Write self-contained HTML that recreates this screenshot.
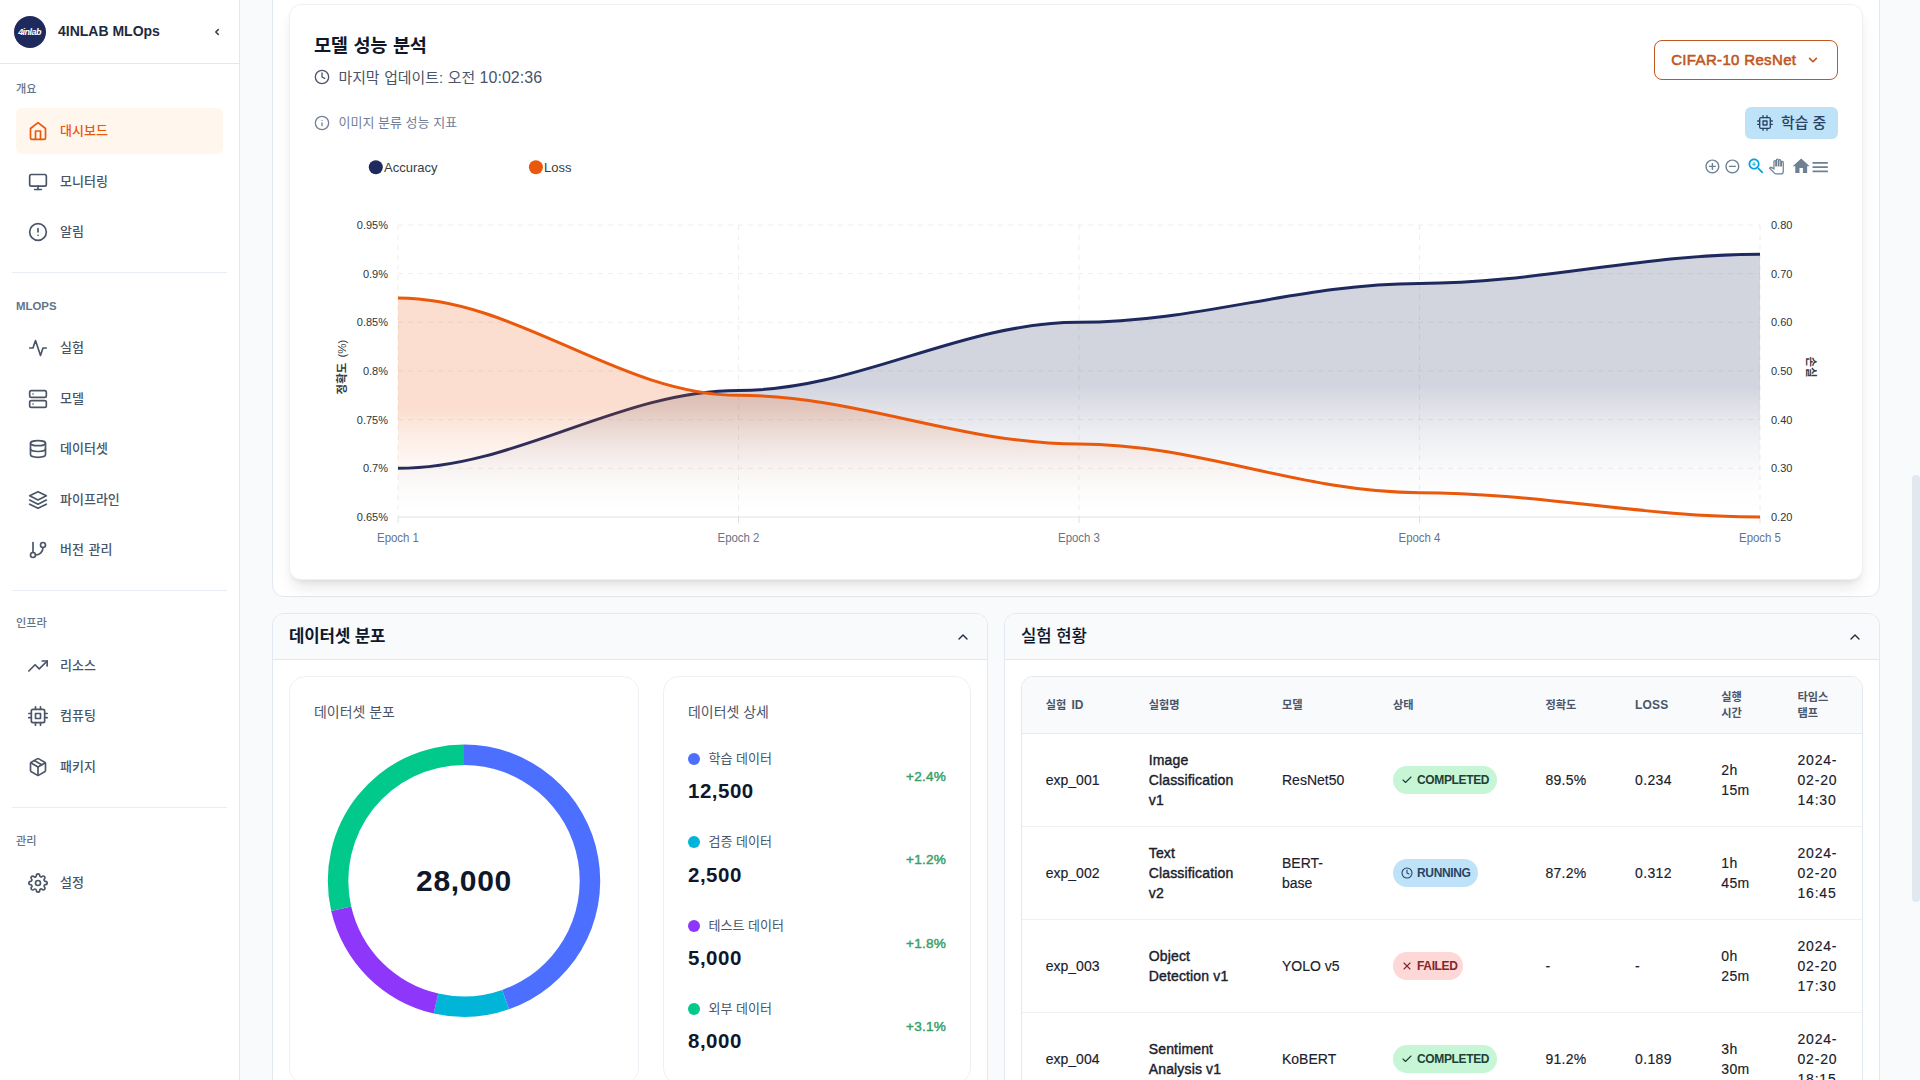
<!DOCTYPE html>
<html lang="ko"><head><meta charset="utf-8"><title>4INLAB MLOps</title>
<style>
*{box-sizing:border-box;margin:0;padding:0}
html,body{width:1920px;height:1080px;overflow:hidden;background:#f8fafc}
body{position:relative;font-family:"Liberation Sans","Noto Sans CJK KR",sans-serif;color:#1e293b;-webkit-font-smoothing:antialiased}
.a{position:absolute}
.ic{position:absolute;display:block;overflow:visible}
.t{position:absolute;white-space:nowrap}
.k{letter-spacing:0}
#sb{position:absolute;left:0;top:0;width:240px;height:1080px;background:#fff;border-right:1px solid #e2e8f0}
#sbh{position:absolute;left:0;top:0;width:239px;height:64px;border-bottom:1px solid #e2e8f0}
.lbl{position:absolute;left:16px;font-size:12px;line-height:16px;height:16px;font-weight:500;color:#64748b;white-space:nowrap}
.it{position:absolute;left:16px;width:207px;height:46px;border-radius:6px}
.it .tx{position:absolute;left:44px;top:0;line-height:46px;font-size:13px;font-weight:500;color:#4a5568;white-space:nowrap;word-spacing:1px}
.it.on{background:#fff7ed}
.it.on .tx{color:#ea580c}
.dv{position:absolute;left:12px;width:215px;height:1px;background:#e8edf3}
.card{position:absolute;background:#fff;border:1px solid #e2e8f0;border-radius:12px}
.sech{position:absolute;left:0;top:0;right:0;height:46px;background:#f8fafc;border-bottom:1px solid #e2e8f0;border-radius:11px 11px 0 0}
.inner{position:absolute;background:#fff;border:1px solid #edf1f6;border-radius:16px}
.ax{font-family:"Liberation Sans",sans-serif;font-size:11px;fill:#2f3437}
.th{position:absolute;font-size:11.2px;font-weight:700;color:#4a5568;line-height:16px;white-space:nowrap;word-spacing:1px}
.td{position:absolute;font-size:14px;color:#1a202c;line-height:20px;white-space:nowrap;-webkit-text-stroke:0.15px #1a202c}
.bdg{position:absolute;height:28px;border-radius:14px;left:1393px}
.bdg span{position:absolute;left:24px;top:0;line-height:28px;font-size:12px;font-weight:700;letter-spacing:-0.35px;white-space:nowrap}
.row{position:absolute;left:1022px;width:840px;height:1px;background:#edf1f6}
</style></head>
<body>
<div id="sb">
<div id="sbh"></div>
<div class="a" style="left:14px;top:16px;width:32px;height:32px;border-radius:50%;background:#1e2a5e"></div>
<div class="t" style="left:14px;top:16px;width:32px;height:32px;line-height:32px;text-align:center;color:#fff;font-size:9px;font-weight:700;font-style:italic;letter-spacing:-0.55px;text-indent:-1px">4inlab</div>
<div class="t" style="left:58px;top:20px;height:22px;line-height:22px;font-size:14px;font-weight:700;color:#1e293b">4INLAB MLOps</div>
<svg class="ic" style="left:213px;top:27px;width:8px;height:10px" viewBox="0 0 8 10" fill="none" stroke="#334155" stroke-width="1.5" stroke-linecap="round" stroke-linejoin="round"><path d="M5.25 2.6 2.75 5 5.25 7.4"/></svg>
<div class="lbl" style="top:80.75px;font-size:11.2px;">개요</div>
<div class="it on" style="top:108.00px"><svg class="ic" style="left:12px;top:13px;width:20px;height:20px;color:#ea580c" viewBox="0 0 24 24" fill="none" stroke="currentColor" stroke-width="2" stroke-linecap="round" stroke-linejoin="round" ><path d="m3 9 9-7 9 7v11a2 2 0 0 1-2 2H5a2 2 0 0 1-2-2z"/><polyline points="9 22 9 12 15 12 15 22"/></svg><span class="tx">대시보드</span></div>
<div class="it" style="top:158.60px"><svg class="ic" style="left:12px;top:13px;width:20px;height:20px;color:#4a5568" viewBox="0 0 24 24" fill="none" stroke="currentColor" stroke-width="2" stroke-linecap="round" stroke-linejoin="round" ><rect width="20" height="14" x="2" y="3" rx="2"/><line x1="8" x2="16" y1="21" y2="21"/><line x1="12" x2="12" y1="17" y2="21"/></svg><span class="tx">모니터링</span></div>
<div class="it" style="top:209.20px"><svg class="ic" style="left:12px;top:13px;width:20px;height:20px;color:#4a5568" viewBox="0 0 24 24" fill="none" stroke="currentColor" stroke-width="2" stroke-linecap="round" stroke-linejoin="round" ><circle cx="12" cy="12" r="10"/><line x1="12" x2="12" y1="8" y2="12"/><line x1="12" x2="12.01" y1="16" y2="16"/></svg><span class="tx">알림</span></div>
<div class="dv" style="top:272px"></div>
<div class="lbl" style="top:297.75px;font-weight:700;font-size:11.4px;">MLOPS</div>
<div class="it" style="top:325.00px"><svg class="ic" style="left:12px;top:13px;width:20px;height:20px;color:#4a5568" viewBox="0 0 24 24" fill="none" stroke="currentColor" stroke-width="2" stroke-linecap="round" stroke-linejoin="round" ><path d="M22 12h-4l-3 9L9 3l-3 9H2"/></svg><span class="tx">실험</span></div>
<div class="it" style="top:375.60px"><svg class="ic" style="left:12px;top:13px;width:20px;height:20px;color:#4a5568" viewBox="0 0 24 24" fill="none" stroke="currentColor" stroke-width="2" stroke-linecap="round" stroke-linejoin="round" ><rect width="20" height="8" x="2" y="2" rx="2" ry="2"/><rect width="20" height="8" x="2" y="14" rx="2" ry="2"/><line x1="6" x2="6.01" y1="6" y2="6"/><line x1="6" x2="6.01" y1="18" y2="18"/></svg><span class="tx">모델</span></div>
<div class="it" style="top:426.20px"><svg class="ic" style="left:12px;top:13px;width:20px;height:20px;color:#4a5568" viewBox="0 0 24 24" fill="none" stroke="currentColor" stroke-width="2" stroke-linecap="round" stroke-linejoin="round" ><ellipse cx="12" cy="5" rx="9" ry="3"/><path d="M21 12c0 1.66-4 3-9 3s-9-1.34-9-3"/><path d="M3 5v14c0 1.66 4 3 9 3s9-1.34 9-3V5"/></svg><span class="tx">데이터셋</span></div>
<div class="it" style="top:476.80px"><svg class="ic" style="left:12px;top:13px;width:20px;height:20px;color:#4a5568" viewBox="0 0 24 24" fill="none" stroke="currentColor" stroke-width="2" stroke-linecap="round" stroke-linejoin="round" ><polygon points="12 2 2 7 12 12 22 7 12 2"/><polyline points="2 17 12 22 22 17"/><polyline points="2 12 12 17 22 12"/></svg><span class="tx">파이프라인</span></div>
<div class="it" style="top:527.40px"><svg class="ic" style="left:12px;top:13px;width:20px;height:20px;color:#4a5568" viewBox="0 0 24 24" fill="none" stroke="currentColor" stroke-width="2" stroke-linecap="round" stroke-linejoin="round" ><line x1="6" x2="6" y1="3" y2="15"/><circle cx="18" cy="6" r="3"/><circle cx="6" cy="18" r="3"/><path d="M18 9a9 9 0 0 1-9 9"/></svg><span class="tx">버전 관리</span></div>
<div class="dv" style="top:590px"></div>
<div class="lbl" style="top:615.25px;font-size:11.2px;">인프라</div>
<div class="it" style="top:642.50px"><svg class="ic" style="left:12px;top:13px;width:20px;height:20px;color:#4a5568" viewBox="0 0 24 24" fill="none" stroke="currentColor" stroke-width="2" stroke-linecap="round" stroke-linejoin="round" ><polyline points="23 6 13.5 15.5 8.5 10.5 1 18"/><polyline points="17 6 23 6 23 12"/></svg><span class="tx">리소스</span></div>
<div class="it" style="top:693.10px"><svg class="ic" style="left:12px;top:13px;width:20px;height:20px;color:#4a5568" viewBox="0 0 24 24" fill="none" stroke="currentColor" stroke-width="2" stroke-linecap="round" stroke-linejoin="round" ><rect x="4" y="4" width="16" height="16" rx="2" ry="2"/><rect x="9" y="9" width="6" height="6"/><line x1="9" y1="1" x2="9" y2="4"/><line x1="15" y1="1" x2="15" y2="4"/><line x1="9" y1="20" x2="9" y2="23"/><line x1="15" y1="20" x2="15" y2="23"/><line x1="20" y1="9" x2="23" y2="9"/><line x1="20" y1="14" x2="23" y2="14"/><line x1="1" y1="9" x2="4" y2="9"/><line x1="1" y1="14" x2="4" y2="14"/></svg><span class="tx">컴퓨팅</span></div>
<div class="it" style="top:743.70px"><svg class="ic" style="left:12px;top:13px;width:20px;height:20px;color:#4a5568" viewBox="0 0 24 24" fill="none" stroke="currentColor" stroke-width="2" stroke-linecap="round" stroke-linejoin="round" ><line x1="16.5" y1="9.4" x2="7.5" y2="4.21"/><path d="M21 16V8a2 2 0 0 0-1-1.73l-7-4a2 2 0 0 0-2 0l-7 4A2 2 0 0 0 3 8v8a2 2 0 0 0 1 1.73l7 4a2 2 0 0 0 2 0l7-4A2 2 0 0 0 21 16z"/><polyline points="3.27 6.96 12 12.01 20.73 6.96"/><line x1="12" y1="22.08" x2="12" y2="12"/></svg><span class="tx">패키지</span></div>
<div class="dv" style="top:807px"></div>
<div class="lbl" style="top:832.75px;font-size:11.2px;">관리</div>
<div class="it" style="top:860.00px"><svg class="ic" style="left:12px;top:13px;width:20px;height:20px;color:#4a5568" viewBox="0 0 24 24" fill="none" stroke="currentColor" stroke-width="2" stroke-linecap="round" stroke-linejoin="round" ><circle cx="12" cy="12" r="3"/><path d="M19.4 15a1.65 1.65 0 0 0 .33 1.82l.06.06a2 2 0 0 1 0 2.83 2 2 0 0 1-2.83 0l-.06-.06a1.65 1.65 0 0 0-1.82-.33 1.65 1.65 0 0 0-1 1.51V21a2 2 0 0 1-2 2 2 2 0 0 1-2-2v-.09A1.65 1.65 0 0 0 9 19.4a1.65 1.65 0 0 0-1.82.33l-.06.06a2 2 0 0 1-2.83 0 2 2 0 0 1 0-2.83l.06-.06a1.65 1.65 0 0 0 .33-1.82 1.65 1.65 0 0 0-1.51-1H3a2 2 0 0 1-2-2 2 2 0 0 1 2-2h.09A1.65 1.65 0 0 0 4.6 9a1.65 1.65 0 0 0-.33-1.82l-.06-.06a2 2 0 0 1 0-2.83 2 2 0 0 1 2.83 0l.06.06a1.65 1.65 0 0 0 1.82.33H9a1.65 1.65 0 0 0 1-1.51V3a2 2 0 0 1 2-2 2 2 0 0 1 2 2v.09a1.65 1.65 0 0 0 1 1.51 1.65 1.65 0 0 0 1.82-.33l.06-.06a2 2 0 0 1 2.83 0 2 2 0 0 1 0 2.83l-.06.06a1.65 1.65 0 0 0-.33 1.82V9a1.65 1.65 0 0 0 1.51 1H21a2 2 0 0 1 2 2 2 2 0 0 1-2 2h-.09a1.65 1.65 0 0 0-1.51 1z"/></svg><span class="tx">설정</span></div>
</div>
<div class="card" style="left:272px;top:-40px;width:1608px;height:637px"></div>
<div class="a" style="left:289px;top:4px;width:1574px;height:576px;background:#fff;border:1px solid #edf1f6;border-radius:12px;box-shadow:0 10px 15px -3px rgba(0,0,0,.1),0 4px 6px -4px rgba(0,0,0,.1)"></div>
<div class="t k" style="left:314px;top:31.50px;height:28px;line-height:28px;font-size:18.6px;font-weight:700;color:#0f172a;word-spacing:1px;letter-spacing:-0.3px">모델 성능 분석</div>
<svg class="ic" style="left:314px;top:69px;width:16px;height:16px;color:#4a5568" viewBox="0 0 24 24" fill="none" stroke="currentColor" stroke-width="2" stroke-linecap="round" stroke-linejoin="round" ><circle cx="12" cy="12" r="10"/><polyline points="12 6 12 12 16 14"/></svg>
<div class="t " style="left:338.5px;top:65.50px;height:24px;line-height:24px;font-size:16px;font-weight:400;color:#4a5568;"><span class="k" style="font-size:14.88px;word-spacing:0.5px">마지막 업데이트: 오전</span> <span style="letter-spacing:0.05px">10:02:36</span></div>
<svg class="ic" style="left:314px;top:115px;width:16px;height:16px;color:#718096" viewBox="0 0 24 24" fill="none" stroke="currentColor" stroke-width="2" stroke-linecap="round" stroke-linejoin="round" ><circle cx="12" cy="12" r="10"/><path d="M12 16v-4"/><path d="M12 8h.01"/></svg>
<div class="t k" style="left:338.5px;top:113.00px;height:20px;line-height:20px;font-size:13.02px;font-weight:400;color:#718096;">이미지 분류 성능 지표</div>
<div class="a" style="left:1654px;top:40px;width:184px;height:40px;border:1px solid #c05621;border-radius:8px;background:#fff"></div>
<div class="t " style="left:1671.2px;top:47.60px;height:24px;line-height:24px;font-size:15px;font-weight:400;color:#c05621;-webkit-text-stroke:0.55px #c05621;letter-spacing:0.34px">CIFAR-10 ResNet</div>
<svg class="ic" style="left:1807px;top:54px;width:12px;height:12px" viewBox="0 0 12 12" fill="none" stroke="#c05621" stroke-width="1.6" stroke-linecap="round" stroke-linejoin="round"><path d="M2.6 4.4 6 7.8 9.4 4.4"/></svg>
<div class="a" style="left:1745px;top:107px;width:93px;height:32px;border-radius:6px;background:#bee3f8"></div>
<svg class="ic" style="left:1757px;top:115px;width:16px;height:16px;color:#2a4365" viewBox="0 0 24 24" fill="none" stroke="currentColor" stroke-width="2" stroke-linecap="round" stroke-linejoin="round" ><rect x="4" y="4" width="16" height="16" rx="2" ry="2"/><rect x="9" y="9" width="6" height="6"/><line x1="9" y1="1" x2="9" y2="4"/><line x1="15" y1="1" x2="15" y2="4"/><line x1="9" y1="20" x2="9" y2="23"/><line x1="15" y1="20" x2="15" y2="23"/><line x1="20" y1="9" x2="23" y2="9"/><line x1="20" y1="14" x2="23" y2="14"/><line x1="1" y1="9" x2="4" y2="9"/><line x1="1" y1="14" x2="4" y2="14"/></svg>
<div class="t k" style="left:1781px;top:111.00px;height:24px;line-height:24px;font-size:14.88px;font-weight:500;color:#2a4365;">학습 중</div>
<svg class="a" style="left:0;top:0" width="1920" height="600" viewBox="0 0 1920 600"><defs><linearGradient id="ga" x1="0" y1="0" x2="0" y2="1"><stop offset="0" stop-color="#1e2a5e" stop-opacity=".2"/><stop offset="0.5000" stop-color="#1e2a5e" stop-opacity="0.2000"/><stop offset="0.5625" stop-color="#1e2a5e" stop-opacity="0.1531"/><stop offset="0.6250" stop-color="#1e2a5e" stop-opacity="0.1125"/><stop offset="0.6875" stop-color="#1e2a5e" stop-opacity="0.0781"/><stop offset="0.7500" stop-color="#1e2a5e" stop-opacity="0.0500"/><stop offset="0.8125" stop-color="#1e2a5e" stop-opacity="0.0281"/><stop offset="0.8750" stop-color="#1e2a5e" stop-opacity="0.0125"/><stop offset="0.9375" stop-color="#1e2a5e" stop-opacity="0.0031"/><stop offset="1.0000" stop-color="#1e2a5e" stop-opacity="0.0000"/></linearGradient><linearGradient id="gl" x1="0" y1="0" x2="0" y2="1"><stop offset="0" stop-color="#ea580c" stop-opacity=".2"/><stop offset="0.5000" stop-color="#ea580c" stop-opacity="0.2000"/><stop offset="0.5625" stop-color="#ea580c" stop-opacity="0.1531"/><stop offset="0.6250" stop-color="#ea580c" stop-opacity="0.1125"/><stop offset="0.6875" stop-color="#ea580c" stop-opacity="0.0781"/><stop offset="0.7500" stop-color="#ea580c" stop-opacity="0.0500"/><stop offset="0.8125" stop-color="#ea580c" stop-opacity="0.0281"/><stop offset="0.8750" stop-color="#ea580c" stop-opacity="0.0125"/><stop offset="0.9375" stop-color="#ea580c" stop-opacity="0.0031"/><stop offset="1.0000" stop-color="#ea580c" stop-opacity="0.0000"/></linearGradient></defs><g stroke="#eeeeee" stroke-width="1" stroke-dasharray="5" fill="none"><line x1="398" y1="225.00" x2="1760" y2="225.00"/><line x1="398" y1="273.67" x2="1760" y2="273.67"/><line x1="398" y1="322.33" x2="1760" y2="322.33"/><line x1="398" y1="371.00" x2="1760" y2="371.00"/><line x1="398" y1="419.67" x2="1760" y2="419.67"/><line x1="398" y1="468.33" x2="1760" y2="468.33"/><line x1="398" y1="225.0" x2="398" y2="517.0"/><line x1="738.5" y1="225.0" x2="738.5" y2="517.0"/><line x1="1079" y1="225.0" x2="1079" y2="517.0"/><line x1="1419.5" y1="225.0" x2="1419.5" y2="517.0"/><line x1="1760" y1="225.0" x2="1760" y2="517.0"/></g><line x1="398" y1="517.0" x2="1760" y2="517.0" stroke="#e0e0e0" stroke-width="1"/><line x1="398" y1="517.0" x2="398" y2="523.0" stroke="#e0e0e0" stroke-width="1"/><line x1="738.5" y1="517.0" x2="738.5" y2="523.0" stroke="#e0e0e0" stroke-width="1"/><line x1="1079" y1="517.0" x2="1079" y2="523.0" stroke="#e0e0e0" stroke-width="1"/><line x1="1419.5" y1="517.0" x2="1419.5" y2="523.0" stroke="#e0e0e0" stroke-width="1"/><line x1="1760" y1="517.0" x2="1760" y2="523.0" stroke="#e0e0e0" stroke-width="1"/><path d="M398 468.33 C517.17 468.33 619.33 390.47 738.5 390.47 C857.67 390.47 959.83 322.33 1079 322.33 C1198.17 322.33 1300.33 283.40 1419.5 283.40 C1538.67 283.40 1640.83 254.20 1760 254.20 L1760 517.0 L398 517.0 Z" fill="url(#ga)"/><path d="M398 468.33 C517.17 468.33 619.33 390.47 738.5 390.47 C857.67 390.47 959.83 322.33 1079 322.33 C1198.17 322.33 1300.33 283.40 1419.5 283.40 C1538.67 283.40 1640.83 254.20 1760 254.20" fill="none" stroke="#1e2a5e" stroke-width="3" stroke-linecap="butt"/><path d="M398 298.00 C517.17 298.00 619.33 395.33 738.5 395.33 C857.67 395.33 959.83 444.00 1079 444.00 C1198.17 444.00 1300.33 492.67 1419.5 492.67 C1538.67 492.67 1640.83 517.00 1760 517.00 L1760 517.0 L398 517.0 Z" fill="url(#gl)"/><path d="M398 298.00 C517.17 298.00 619.33 395.33 738.5 395.33 C857.67 395.33 959.83 444.00 1079 444.00 C1198.17 444.00 1300.33 492.67 1419.5 492.67 C1538.67 492.67 1640.83 517.00 1760 517.00" fill="none" stroke="#ea580c" stroke-width="3" stroke-linecap="butt"/><text class="ax" x="388" y="229.0" text-anchor="end">0.95%</text><text class="ax" x="1771" y="229.0">0.80</text><text class="ax" x="388" y="277.7" text-anchor="end">0.9%</text><text class="ax" x="1771" y="277.7">0.70</text><text class="ax" x="388" y="326.3" text-anchor="end">0.85%</text><text class="ax" x="1771" y="326.3">0.60</text><text class="ax" x="388" y="375.0" text-anchor="end">0.8%</text><text class="ax" x="1771" y="375.0">0.50</text><text class="ax" x="388" y="423.7" text-anchor="end">0.75%</text><text class="ax" x="1771" y="423.7">0.40</text><text class="ax" x="388" y="472.3" text-anchor="end">0.7%</text><text class="ax" x="1771" y="472.3">0.30</text><text class="ax" x="388" y="521.0" text-anchor="end">0.65%</text><text class="ax" x="1771" y="521.0">0.20</text><text x="398" y="541.5" text-anchor="middle" font-family="Liberation Sans,sans-serif" font-size="12" fill="#64748b" textLength="42" lengthAdjust="spacingAndGlyphs">Epoch 1</text><text x="738.5" y="541.5" text-anchor="middle" font-family="Liberation Sans,sans-serif" font-size="12" fill="#64748b" textLength="42" lengthAdjust="spacingAndGlyphs">Epoch 2</text><text x="1079" y="541.5" text-anchor="middle" font-family="Liberation Sans,sans-serif" font-size="12" fill="#64748b" textLength="42" lengthAdjust="spacingAndGlyphs">Epoch 3</text><text x="1419.5" y="541.5" text-anchor="middle" font-family="Liberation Sans,sans-serif" font-size="12" fill="#64748b" textLength="42" lengthAdjust="spacingAndGlyphs">Epoch 4</text><text x="1760" y="541.5" text-anchor="middle" font-family="Liberation Sans,sans-serif" font-size="12" fill="#64748b" textLength="42" lengthAdjust="spacingAndGlyphs">Epoch 5</text><text transform="translate(345.6 367) rotate(-90)" text-anchor="middle" font-family="Liberation Sans,Noto Sans CJK KR,sans-serif" font-size="11.5" font-weight="700" fill="#373d3f" word-spacing="2">정확도 <tspan font-weight="400">(%)</tspan></text><text transform="translate(1806.5 367) rotate(90)" text-anchor="middle" font-family="Liberation Sans,Noto Sans CJK KR,sans-serif" font-size="11.5" font-weight="700" fill="#373d3f">손실</text><circle cx="375.8" cy="167.2" r="7" fill="#1e2a5e"/><circle cx="535.9" cy="167.2" r="7" fill="#ea580c"/><text x="384" y="171.6" font-family="Liberation Sans,sans-serif" font-size="13" fill="#373d3f">Accuracy</text><text x="544" y="171.6" font-family="Liberation Sans,sans-serif" font-size="13" fill="#373d3f">Loss</text></svg>
<svg class="ic" style="left:1703.90px;top:157.90px;width:16.80px;height:16.80px" viewBox="0 0 24 24" fill="#6e8192" ><path d="M13 7h-2v4H7v2h4v4h2v-4h4v-2h-4V7zm-1-5C6.48 2 2 6.48 2 12s4.48 10 10 10 10-4.48 10-10S17.52 2 12 2zm0 18c-4.41 0-8-3.59-8-8s3.59-8 8-8 8 3.59 8 8-3.59 8-8 8z"/></svg>
<svg class="ic" style="left:1724.00px;top:157.90px;width:16.80px;height:16.80px" viewBox="0 0 24 24" fill="#6e8192" ><path d="M7 11v2h10v-2H7zm5-9C6.48 2 2 6.48 2 12s4.48 10 10 10 10-4.48 10-10S17.52 2 12 2zm0 18c-4.41 0-8-3.59-8-8s3.59-8 8-8 8 3.59 8 8-3.59 8-8 8z"/></svg>
<svg class="ic" style="left:1745.51px;top:156.26px;width:20.40px;height:20.40px" viewBox="0 0 24 24" fill="#00a3e0" ><path d="M15.5 14h-.79l-.28-.27C15.41 12.59 16 11.11 16 9.5 16 5.91 13.09 3 9.5 3S3 5.91 3 9.5 5.91 16 9.5 16c1.61 0 3.09-.59 4.23-1.57l.27.28v.79l5 4.99L20.49 19l-4.99-5zm-6 0C7.01 14 5 11.99 5 9.5S7.01 5 9.5 5 14 7.01 14 9.5 11.99 14 9.5 14z"/><path d="M12 10h-2v2H9v-2H7V9h2V7h1v2h2v1z"/></svg>
<svg class="ic" style="left:1768.86px;top:158.76px;width:14.88px;height:14.88px" viewBox="0 0 24 24" fill="#fff" stroke="#6e8192" stroke-width="2"><path d="M23 5.5V20c0 2.2-1.8 4-4 4h-7.3c-1.08 0-2.1-.43-2.85-1.19L1 14.83s1.26-1.23 1.3-1.25c.22-.19.49-.29.79-.29.22 0 .42.06.6.16.04.01 4.31 2.46 4.31 2.46V4c0-.83.67-1.5 1.5-1.5S11 3.17 11 4v7h1V1.5c0-.83.67-1.5 1.5-1.5S15 .67 15 1.5V11h1V2.5c0-.83.67-1.5 1.5-1.5s1.5.67 1.5 1.5V11h1V5.5c0-.83.67-1.5 1.5-1.5s1.5.67 1.5 1.5z"/></svg>
<svg class="ic" style="left:1790.50px;top:156.47px;width:20.40px;height:20.40px" viewBox="0 0 24 24" fill="#6e8192" ><path d="M10 20v-6h4v6h5v-8h3L12 3 2 12h3v8z"/></svg>
<svg class="ic" style="left:1810.45px;top:156.50px;width:20.40px;height:20.40px" viewBox="0 0 24 24" fill="#6e8192" ><path d="M3 18h18v-2H3v2zm0-5h18v-2H3v2zm0-7v2h18V6H3z"/></svg>
<div class="card" style="left:272px;top:613px;width:716px;height:520px"><div class="sech"></div></div>
<div class="t k" style="left:289px;top:623.10px;height:28px;line-height:28px;font-size:16.74px;font-weight:700;color:#0f172a;letter-spacing:-0.1px">데이터셋 분포</div>
<svg class="ic" style="left:955px;top:629px;width:16px;height:16px;color:#1e293b" viewBox="0 0 24 24" fill="none" stroke="currentColor" stroke-width="2" stroke-linecap="round" stroke-linejoin="round" ><path d="m18 15-6-6-6 6"/></svg>
<div class="inner" style="left:289px;top:676px;width:350px;height:408px"></div>
<div class="inner" style="left:663px;top:676px;width:308px;height:408px"></div>
<div class="t k" style="left:314px;top:701.00px;height:22px;line-height:22px;font-size:13.95px;font-weight:400;color:#4a5568;">데이터셋 분포</div>
<div class="t k" style="left:688px;top:701.00px;height:22px;line-height:22px;font-size:13.95px;font-weight:400;color:#4a5568;">데이터셋 상세</div>
<svg class="a" style="left:314px;top:730px" width="300" height="300" viewBox="314 730 300 300"><path d="M464.00 744.50 A136.2 136.2 0 0 1 508.98 1009.26 L502.21 989.91 A115.7 115.7 0 0 0 464.00 765.00 Z" fill="#4c6fff"/><path d="M508.98 1009.26 A136.2 136.2 0 0 1 433.69 1013.49 L438.25 993.50 A115.7 115.7 0 0 0 502.21 989.91 Z" fill="#00b5d8"/><path d="M433.69 1013.49 A136.2 136.2 0 0 1 331.21 911.01 L351.20 906.45 A115.7 115.7 0 0 0 438.25 993.50 Z" fill="#8f36fb"/><path d="M331.21 911.01 A136.2 136.2 0 0 1 464.00 744.50 L464.00 765.00 A115.7 115.7 0 0 0 351.20 906.45 Z" fill="#00c98b"/></svg>
<div class="t" style="left:364px;top:860px;width:200px;height:42px;line-height:42px;text-align:center;font-size:30px;font-weight:700;color:#0f172a;letter-spacing:0.7px">28,000</div>
<div class="a" style="left:688px;top:753.00px;width:12px;height:12px;border-radius:50%;background:#4c6fff"></div>
<div class="t k" style="left:708.5px;top:749.00px;height:20px;line-height:20px;font-size:13.02px;font-weight:400;color:#4a5568;">학습 데이터</div>
<div class="t " style="left:688px;top:777.30px;height:28px;line-height:28px;font-size:20.5px;font-weight:700;color:#0f172a;letter-spacing:0.5px">12,500</div>
<div class="t" style="left:846px;width:100px;text-align:right;top:766.90px;height:20px;line-height:20px;font-size:13.6px;font-weight:400;-webkit-text-stroke:0.45px #38a169;letter-spacing:0.2px;color:#38a169">+2.4%</div>
<div class="a" style="left:688px;top:836.33px;width:12px;height:12px;border-radius:50%;background:#00b5d8"></div>
<div class="t k" style="left:708.5px;top:832.33px;height:20px;line-height:20px;font-size:13.02px;font-weight:400;color:#4a5568;">검증 데이터</div>
<div class="t " style="left:688px;top:860.63px;height:28px;line-height:28px;font-size:20.5px;font-weight:700;color:#0f172a;letter-spacing:0.5px">2,500</div>
<div class="t" style="left:846px;width:100px;text-align:right;top:850.23px;height:20px;line-height:20px;font-size:13.6px;font-weight:400;-webkit-text-stroke:0.45px #38a169;letter-spacing:0.2px;color:#38a169">+1.2%</div>
<div class="a" style="left:688px;top:919.66px;width:12px;height:12px;border-radius:50%;background:#8f36fb"></div>
<div class="t k" style="left:708.5px;top:915.66px;height:20px;line-height:20px;font-size:13.02px;font-weight:400;color:#4a5568;">테스트 데이터</div>
<div class="t " style="left:688px;top:943.96px;height:28px;line-height:28px;font-size:20.5px;font-weight:700;color:#0f172a;letter-spacing:0.5px">5,000</div>
<div class="t" style="left:846px;width:100px;text-align:right;top:933.56px;height:20px;line-height:20px;font-size:13.6px;font-weight:400;-webkit-text-stroke:0.45px #38a169;letter-spacing:0.2px;color:#38a169">+1.8%</div>
<div class="a" style="left:688px;top:1002.99px;width:12px;height:12px;border-radius:50%;background:#00c98b"></div>
<div class="t k" style="left:708.5px;top:998.99px;height:20px;line-height:20px;font-size:13.02px;font-weight:400;color:#4a5568;">외부 데이터</div>
<div class="t " style="left:688px;top:1027.29px;height:28px;line-height:28px;font-size:20.5px;font-weight:700;color:#0f172a;letter-spacing:0.5px">8,000</div>
<div class="t" style="left:846px;width:100px;text-align:right;top:1016.89px;height:20px;line-height:20px;font-size:13.6px;font-weight:400;-webkit-text-stroke:0.45px #38a169;letter-spacing:0.2px;color:#38a169">+3.1%</div>
<div class="card" style="left:1004px;top:613px;width:876px;height:520px"><div class="sech"></div></div>
<div class="t k" style="left:1021px;top:623.30px;height:28px;line-height:28px;font-size:16.74px;font-weight:500;color:#0f172a;letter-spacing:-0.1px">실험 현황</div>
<svg class="ic" style="left:1847px;top:629px;width:16px;height:16px;color:#1e293b" viewBox="0 0 24 24" fill="none" stroke="currentColor" stroke-width="2" stroke-linecap="round" stroke-linejoin="round" ><path d="m18 15-6-6-6 6"/></svg>
<div class="a" style="left:1021px;top:676px;width:842px;height:440px;background:#fff;border:1px solid #e2e8f0;border-radius:12px;overflow:hidden"><div class="a" style="left:0;top:0;width:842px;height:57px;background:#f8fafc;border-bottom:1px solid #e6ebf1"></div></div>
<div class="th" style="left:1045.75px;top:697.00px;">실험 <span style="font-size:12px;margin-left:1px">ID</span></div>
<div class="th" style="left:1148.75px;top:697.00px;">실험명</div>
<div class="th" style="left:1282px;top:697.00px;">모델</div>
<div class="th" style="left:1393px;top:697.00px;">상태</div>
<div class="th" style="left:1545.5px;top:697.00px;">정확도</div>
<div class="th" style="left:1635px;top:697.00px;font-size:12px;letter-spacing:0.2px">LOSS</div>
<div class="th" style="left:1721.25px;top:689.00px;">실행</div>
<div class="th" style="left:1721.25px;top:705.00px;">시간</div>
<div class="th" style="left:1797.5px;top:689.00px;">타임스</div>
<div class="th" style="left:1797.5px;top:705.00px;">탬프</div>
<div class="td" style="left:1045.75px;top:770.00px;">exp_001</div>
<div class="td" style="left:1148.75px;top:750.00px;font-weight:500;-webkit-text-stroke:0.4px #1a202c;letter-spacing:0.15px">Image</div><div class="td" style="left:1148.75px;top:770.00px;font-weight:500;-webkit-text-stroke:0.4px #1a202c;letter-spacing:0.15px">Classification</div><div class="td" style="left:1148.75px;top:790.00px;font-weight:500;-webkit-text-stroke:0.4px #1a202c;letter-spacing:0.15px">v1</div>
<div class="td" style="left:1282px;top:770.00px;">ResNet50</div>
<div class="bdg" style="top:766px;width:104px;background:#c6f6d5"><svg class="ic" style="left:7.6px;top:8px;width:12px;height:12px;color:#1f4037" viewBox="0 0 24 24" fill="none" stroke="currentColor" stroke-width="2.2" stroke-linecap="round" stroke-linejoin="round" ><path d="M20 6 9 17l-5-5"/></svg><span style="color:#1f4037">COMPLETED</span></div>
<div class="td" style="left:1545.5px;top:770.00px;letter-spacing:0.25px">89.5%</div>
<div class="td" style="left:1635px;top:770.00px;letter-spacing:0.35px">0.234</div>
<div class="td" style="left:1721.25px;top:760.00px;letter-spacing:0.4px">2h</div><div class="td" style="left:1721.25px;top:780.00px;letter-spacing:0.4px">15m</div>
<div class="td" style="left:1797.5px;top:750.00px;letter-spacing:0.8px">2024-</div><div class="td" style="left:1797.5px;top:770.00px;letter-spacing:0.8px">02-20</div><div class="td" style="left:1797.5px;top:790.00px;letter-spacing:0.8px">14:30</div>
<div class="row" style="top:826px"></div>
<div class="td" style="left:1045.75px;top:863.00px;">exp_002</div>
<div class="td" style="left:1148.75px;top:843.00px;font-weight:500;-webkit-text-stroke:0.4px #1a202c;letter-spacing:0.15px">Text</div><div class="td" style="left:1148.75px;top:863.00px;font-weight:500;-webkit-text-stroke:0.4px #1a202c;letter-spacing:0.15px">Classification</div><div class="td" style="left:1148.75px;top:883.00px;font-weight:500;-webkit-text-stroke:0.4px #1a202c;letter-spacing:0.15px">v2</div>
<div class="td" style="left:1282px;top:853.00px;">BERT-</div><div class="td" style="left:1282px;top:873.00px;">base</div>
<div class="bdg" style="top:859px;width:85px;background:#bee3f8"><svg class="ic" style="left:7.6px;top:8px;width:12px;height:12px;color:#2a4365" viewBox="0 0 24 24" fill="none" stroke="currentColor" stroke-width="2.2" stroke-linecap="round" stroke-linejoin="round" ><circle cx="12" cy="12" r="10"/><polyline points="12 6 12 12 16 14"/></svg><span style="color:#2a4365">RUNNING</span></div>
<div class="td" style="left:1545.5px;top:863.00px;letter-spacing:0.25px">87.2%</div>
<div class="td" style="left:1635px;top:863.00px;letter-spacing:0.35px">0.312</div>
<div class="td" style="left:1721.25px;top:853.00px;letter-spacing:0.4px">1h</div><div class="td" style="left:1721.25px;top:873.00px;letter-spacing:0.4px">45m</div>
<div class="td" style="left:1797.5px;top:843.00px;letter-spacing:0.8px">2024-</div><div class="td" style="left:1797.5px;top:863.00px;letter-spacing:0.8px">02-20</div><div class="td" style="left:1797.5px;top:883.00px;letter-spacing:0.8px">16:45</div>
<div class="row" style="top:919px"></div>
<div class="td" style="left:1045.75px;top:956.00px;">exp_003</div>
<div class="td" style="left:1148.75px;top:946.00px;font-weight:500;-webkit-text-stroke:0.4px #1a202c;letter-spacing:0.15px">Object</div><div class="td" style="left:1148.75px;top:966.00px;font-weight:500;-webkit-text-stroke:0.4px #1a202c;letter-spacing:0.15px">Detection v1</div>
<div class="td" style="left:1282px;top:956.00px;">YOLO v5</div>
<div class="bdg" style="top:952px;width:70px;background:#fed7d7"><svg class="ic" style="left:7.6px;top:8px;width:12px;height:12px;color:#822727" viewBox="0 0 24 24" fill="none" stroke="currentColor" stroke-width="2.2" stroke-linecap="round" stroke-linejoin="round" ><path d="M18 6 6 18"/><path d="m6 6 12 12"/></svg><span style="color:#822727">FAILED</span></div>
<div class="td" style="left:1545.5px;top:956.00px;letter-spacing:0.25px">-</div>
<div class="td" style="left:1635px;top:956.00px;letter-spacing:0.35px">-</div>
<div class="td" style="left:1721.25px;top:946.00px;letter-spacing:0.4px">0h</div><div class="td" style="left:1721.25px;top:966.00px;letter-spacing:0.4px">25m</div>
<div class="td" style="left:1797.5px;top:936.00px;letter-spacing:0.8px">2024-</div><div class="td" style="left:1797.5px;top:956.00px;letter-spacing:0.8px">02-20</div><div class="td" style="left:1797.5px;top:976.00px;letter-spacing:0.8px">17:30</div>
<div class="row" style="top:1012px"></div>
<div class="td" style="left:1045.75px;top:1049.00px;">exp_004</div>
<div class="td" style="left:1148.75px;top:1039.00px;font-weight:500;-webkit-text-stroke:0.4px #1a202c;letter-spacing:0.15px">Sentiment</div><div class="td" style="left:1148.75px;top:1059.00px;font-weight:500;-webkit-text-stroke:0.4px #1a202c;letter-spacing:0.15px">Analysis v1</div>
<div class="td" style="left:1282px;top:1049.00px;">KoBERT</div>
<div class="bdg" style="top:1045px;width:104px;background:#c6f6d5"><svg class="ic" style="left:7.6px;top:8px;width:12px;height:12px;color:#1f4037" viewBox="0 0 24 24" fill="none" stroke="currentColor" stroke-width="2.2" stroke-linecap="round" stroke-linejoin="round" ><path d="M20 6 9 17l-5-5"/></svg><span style="color:#1f4037">COMPLETED</span></div>
<div class="td" style="left:1545.5px;top:1049.00px;letter-spacing:0.25px">91.2%</div>
<div class="td" style="left:1635px;top:1049.00px;letter-spacing:0.35px">0.189</div>
<div class="td" style="left:1721.25px;top:1039.00px;letter-spacing:0.4px">3h</div><div class="td" style="left:1721.25px;top:1059.00px;letter-spacing:0.4px">30m</div>
<div class="td" style="left:1797.5px;top:1029.00px;letter-spacing:0.8px">2024-</div><div class="td" style="left:1797.5px;top:1049.00px;letter-spacing:0.8px">02-20</div><div class="td" style="left:1797.5px;top:1069.00px;letter-spacing:0.8px">18:15</div>
<div class="a" style="left:1912px;top:475px;width:8px;height:427px;border-radius:4px;background:#e2e8f0"></div>
</body></html>
